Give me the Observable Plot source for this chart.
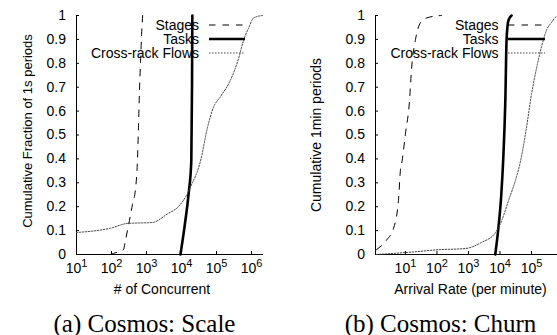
<!DOCTYPE html>
<html>
<head>
<meta charset="utf-8">
<script src="https://cdn.jsdelivr.net/npm/d3@7"></script>
<script src="https://cdn.jsdelivr.net/npm/@observablehq/plot@0.6"></script>
<style>
  html, body { margin: 0; padding: 0; background: #fff; overflow: hidden; }
  #wrap { position: relative; width: 557px; height: 335px; overflow: hidden; font-family: "Liberation Sans", Arial, sans-serif; color: #000; }
  #wrap > svg, #wrap > .panel { position: absolute; top: 0; }
  .t { position: absolute; white-space: nowrap; line-height: 1; }
  .cap { font-family: "Liberation Serif", "Times New Roman", serif; font-size: 25px; }
</style>
</head>
<body>
<div id="wrap"></div>
<script>
// ---------- data ----------
const yTicks = [0, 0.1, 0.2, 0.3, 0.4, 0.5, 0.6, 0.7, 0.8, 0.9, 1];
const scaleXTicks = [1e1, 1e2, 1e3, 1e4, 1e5, 1e6];
const churnXTicks = [1e1, 1e2, 1e3, 1e4, 1e5];
const seriesNames = ["Stages", "Tasks", "Cross-rack Flows"];

// (a) Cosmos: Scale — # of concurrent
const scaleStagesX = [93, 148, 219, 251, 398, 490, 550, 589, 631, 676, 724, 776];
const scaleStagesY = [0, 0.01, 0.02, 0.06, 0.21, 0.28, 0.39, 0.53, 0.69, 0.81, 0.92, 1.0];
const scaleTasksX = [9330, 12300, 15850, 19050, 19950, 20400];
const scaleTasksY = [0, 0.12, 0.25, 0.39, 0.7, 1.0];
const scaleFlowsX = [10, 93, 288, 1480, 3980, 8130, 14800, 20400, 28800, 34700, 55000, 81300, 129000, 251000, 427000, 589000, 813000, 1150000, 2040000];
const scaleFlowsY = [0.092, 0.11, 0.13, 0.134, 0.17, 0.2, 0.255, 0.30, 0.35, 0.39, 0.53, 0.615, 0.66, 0.73, 0.82, 0.895, 0.945, 0.99, 1.0];

// (b) Cosmos: Churn — arrival rate per minute
const churnStagesX = [1.2, 2.5, 4.2, 6.0, 6.9, 7.8, 10, 13.5, 15.5, 20.9, 30, 47, 138];
const churnStagesY = [0.02, 0.06, 0.11, 0.225, 0.35, 0.39, 0.505, 0.645, 0.77, 0.9, 0.97, 0.99, 1.0];
const churnTasksX = [7080, 8900, 11000, 12600, 14800, 16200, 18600, 23400];
const churnTasksY = [0, 0.11, 0.25, 0.39, 0.645, 0.9, 0.98, 1.0];
const churnFlowsX = [1.2, 15.5, 112, 794, 2570, 7240, 11200, 18600, 30900, 44700, 69200, 100000, 145000, 209000, 302000, 427000, 617000, 900000];
const churnFlowsY = [0, 0.01, 0.02, 0.025, 0.05, 0.092, 0.14, 0.225, 0.31, 0.39, 0.53, 0.67, 0.78, 0.87, 0.94, 0.97, 0.995, 1.0];

// ---------- styles ----------
const lineStyles = [
  {stroke: "#000", strokeWidth: 1, strokeDasharray: "6.5,7"},
  {stroke: "#000", strokeWidth: 2.6, strokeDasharray: null},
  {stroke: "#444", strokeWidth: 1, strokeDasharray: "1.5,1.5"}
];

const toRows = (xs, ys) => xs.map((x, i) => ({x, y: ys[i]}));
const ns = "http://www.w3.org/2000/svg";

function supTicks(svg) {
  svg.querySelectorAll('g[aria-label="x-axis tick label"] text').forEach(t => {
    const m = t.textContent.match(/^10\^(\d+)$/);
    if (!m) return;
    t.textContent = "10";
    const ts = document.createElementNS(ns, "tspan");
    ts.setAttribute("dy", "-6.5");
    ts.setAttribute("font-size", "11");
    ts.textContent = m[1];
    t.appendChild(ts);
  });
}

function panel({series, xDomain, xTicks, width, marginLeft, marginRight}) {
  const marks = [
    Plot.ruleY([0], {stroke: "#000", strokeWidth: 1}),
    Plot.ruleX([xDomain[0]], {stroke: "#000", strokeWidth: 1}),
    Plot.axisY({ticks: yTicks, tickSize: 3, dx: 3, tickPadding: 10.5, label: null,
      tickFormat: d => String(+d.toFixed(1))}),
    Plot.axisX({ticks: xTicks, tickSize: 3, dy: -3, tickPadding: 9, label: null,
      tickFormat: d => "10^" + Math.round(Math.log10(d))})
  ];
  series.forEach((s, i) => {
    marks.push(Plot.line(toRows(s[0], s[1]), {x: "x", y: "y", curve: "monotone-x", ...lineStyles[i]}));
  });
  const svg = Plot.plot({
    width, height: 300,
    marginLeft, marginRight, marginTop: 15, marginBottom: 46,
    style: {fontSize: "14px", fontFamily: "'Liberation Sans', Arial, sans-serif", background: "transparent", color: "#000", overflow: "visible"},
    x: {type: "log", domain: xDomain},
    y: {domain: [0, 1]},
    marks
  });
  supTicks(svg);
  return svg;
}

const wrap = document.getElementById("wrap");

const left = panel({
  series: [[scaleStagesX, scaleStagesY], [scaleTasksX, scaleTasksY], [scaleFlowsX, scaleFlowsY]],
  xDomain: [10, 2.2e6], xTicks: scaleXTicks, width: 278, marginLeft: 76, marginRight: 15
});
left.style.left = "0px";
wrap.appendChild(left);

const right = panel({
  series: [[churnStagesX, churnStagesY], [churnTasksX, churnTasksY], [churnFlowsX, churnFlowsY]],
  xDomain: [1.122, 1e6], xTicks: churnXTicks, width: 300, marginLeft: 97, marginRight: 15.5
});
right.style.left = "278px";
wrap.appendChild(right);

// ---------- legends ----------
const leg = document.createElementNS(ns, "svg");
leg.setAttribute("width", 557); leg.setAttribute("height", 335);
leg.style.left = "0px";
wrap.appendChild(leg);
const legendRows = [25, 39, 53];
[[199, 209, 245], [498.5, 508, 545]].forEach(([tx, x1, x2]) => {
  seriesNames.forEach((name, i) => {
    const y = legendRows[i];
    const t = document.createElementNS(ns, "text");
    t.setAttribute("x", tx); t.setAttribute("y", y + 5);
    t.setAttribute("text-anchor", "end");
    t.setAttribute("font-size", "14");
    t.setAttribute("font-family", "'Liberation Sans', Arial, sans-serif");
    t.textContent = name;
    leg.appendChild(t);
    const l = document.createElementNS(ns, "line");
    l.setAttribute("x1", x1); l.setAttribute("x2", x2);
    l.setAttribute("y1", y); l.setAttribute("y2", y);
    l.setAttribute("stroke", lineStyles[i].stroke);
    l.setAttribute("stroke-width", lineStyles[i].strokeWidth);
    if (lineStyles[i].strokeDasharray) l.setAttribute("stroke-dasharray", lineStyles[i].strokeDasharray);
    leg.appendChild(l);
  });
});

// ---------- titles & captions ----------
function addText(txt, x, y, cls, extra) {
  const d = document.createElement("div");
  d.className = "t " + (cls || "");
  d.textContent = txt;
  d.style.left = x + "px"; d.style.top = y + "px";
  d.style.transform = "translate(-50%, -50%)" + (extra || "");
  wrap.appendChild(d);
  return d;
}
addText("Cumulative Fraction of 1s periods", 27, 130.5, "", " rotate(-90deg)").style.fontSize = "13px";
addText("Cumulative 1min periods", 316, 134.5, "", " rotate(-90deg)").style.fontSize = "14px";
addText("# of Concurrent", 162, 289, "").style.fontSize = "14px";
addText("Arrival Rate (per minute)", 470.5, 289, "").style.fontSize = "14px";
addText("(a) Cosmos: Scale", 144.5, 323, "cap");
addText("(b) Cosmos: Churn", 440.5, 323, "cap");
</script>
</body>
</html>
